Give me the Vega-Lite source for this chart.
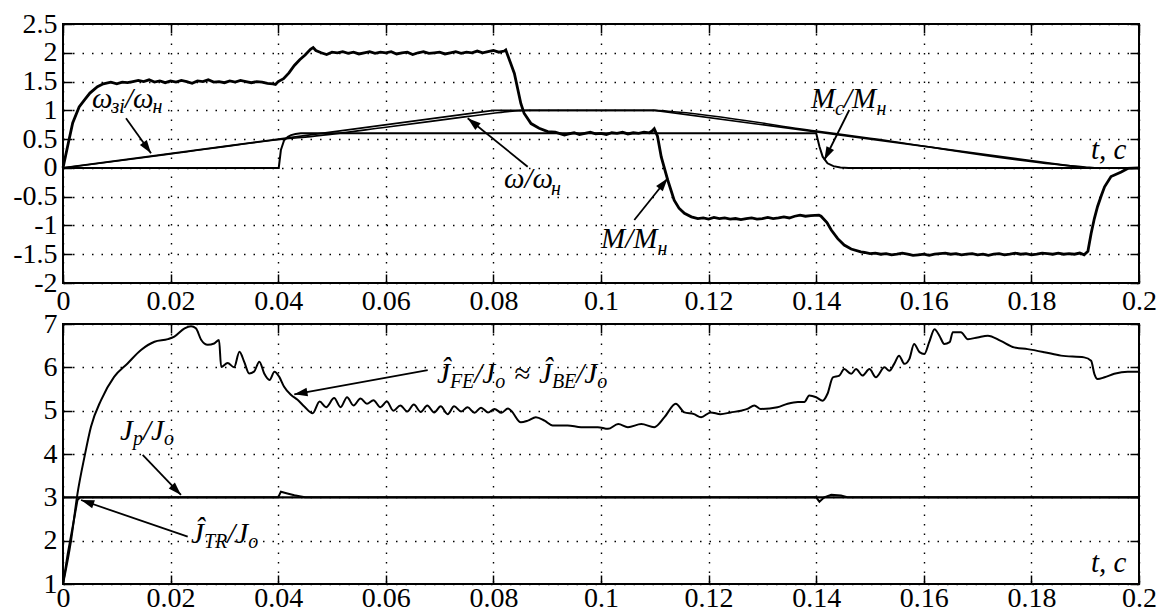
{
  "$schema": "https://vega.github.io/schema/vega-lite/v6.json",
  "background": "white",
  "padding": {"left": 11, "top": 9, "right": 5, "bottom": 0},
  "bounds": "flush",
  "spacing": 41,
  "config": {
    "font": "Liberation Serif",
    "view": {"stroke": "black", "strokeWidth": 2},
    "axis": {
      "grid": true, "gridColor": "black", "gridDash": [1.5, 8], "gridWidth": 1.4, "gridOpacity": 1,
      "domain": false, "ticks": true, "tickColor": "black", "tickSize": -9, "tickWidth": 1.5,
      "labelFont": "Liberation Serif", "labelFontSize": 28, "labelColor": "black",
      "labelPadding": 15, "labelFlush": false, "labelOverlap": false, "title": null
    },
    "text": {"font": "Liberation Serif"},
    "line": {"color": "black"},
    "rule": {"color": "black"}
  },
  "datasets": {
    "M": [
      {"t":0,"v":0},{"t":0.0008,"v":0.35},{"t":0.0018,"v":0.78},{"t":0.003,"v":1.06},{"t":0.004,"v":1.18},{"t":0.005,"v":1.3},{"t":0.0064,"v":1.41},{"t":0.0075,"v":1.46},{"t":0.0089,"v":1.49},
      {"t":0.010,"v":1.46},{"t":0.011,"v":1.49},{"t":0.012,"v":1.48},{"t":0.013,"v":1.5},{"t":0.014,"v":1.52},{"t":0.015,"v":1.5},{"t":0.016,"v":1.53},{"t":0.017,"v":1.49},{"t":0.018,"v":1.51},{"t":0.019,"v":1.48},
      {"t":0.020,"v":1.51},{"t":0.021,"v":1.49},{"t":0.022,"v":1.52},{"t":0.023,"v":1.5},{"t":0.024,"v":1.47},{"t":0.025,"v":1.51},{"t":0.026,"v":1.5},{"t":0.027,"v":1.53},{"t":0.028,"v":1.49},{"t":0.029,"v":1.5},
      {"t":0.030,"v":1.48},{"t":0.031,"v":1.51},{"t":0.032,"v":1.49},{"t":0.033,"v":1.52},{"t":0.034,"v":1.5},{"t":0.035,"v":1.48},{"t":0.036,"v":1.5},{"t":0.037,"v":1.49},{"t":0.038,"v":1.47},{"t":0.039,"v":1.46},{"t":0.0395,"v":1.45},
      {"t":0.040,"v":1.5},{"t":0.041,"v":1.55},{"t":0.042,"v":1.65},{"t":0.043,"v":1.78},{"t":0.044,"v":1.88},{"t":0.045,"v":1.96},{"t":0.046,"v":2.06},{"t":0.0465,"v":2.09},{"t":0.047,"v":2.04},
      {"t":0.048,"v":2.0},{"t":0.049,"v":1.97},{"t":0.050,"v":2.01},{"t":0.051,"v":2.0},{"t":0.052,"v":2.02},{"t":0.053,"v":1.99},{"t":0.054,"v":2.01},{"t":0.055,"v":1.98},{"t":0.056,"v":2.0},{"t":0.057,"v":2.02},{"t":0.058,"v":1.99},{"t":0.059,"v":2.01},
      {"t":0.060,"v":2.0},{"t":0.061,"v":2.02},{"t":0.062,"v":1.98},{"t":0.063,"v":2.0},{"t":0.064,"v":2.01},{"t":0.065,"v":1.97},{"t":0.066,"v":2.0},{"t":0.067,"v":2.02},{"t":0.068,"v":1.99},{"t":0.069,"v":2.0},
      {"t":0.070,"v":2.01},{"t":0.071,"v":1.98},{"t":0.072,"v":2.0},{"t":0.073,"v":2.02},{"t":0.074,"v":1.99},{"t":0.075,"v":2.01},{"t":0.076,"v":2.0},{"t":0.077,"v":2.03},{"t":0.078,"v":2.0},{"t":0.079,"v":2.02},
      {"t":0.080,"v":2.04},{"t":0.081,"v":2.01},{"t":0.082,"v":2.03},{"t":0.0823,"v":2.05},{"t":0.0839,"v":1.64},{"t":0.0851,"v":1.12},{"t":0.0857,"v":0.95},{"t":0.087,"v":0.77},{"t":0.0885,"v":0.69},{"t":0.0901,"v":0.63},{"t":0.0915,"v":0.62},{"t":0.0932,"v":0.57},
      {"t":0.094,"v":0.59},{"t":0.095,"v":0.61},{"t":0.096,"v":0.58},{"t":0.097,"v":0.6},{"t":0.098,"v":0.62},{"t":0.099,"v":0.59},{"t":0.100,"v":0.6},{"t":0.101,"v":0.58},{"t":0.102,"v":0.61},{"t":0.103,"v":0.6},{"t":0.104,"v":0.62},{"t":0.105,"v":0.59},{"t":0.106,"v":0.61},{"t":0.107,"v":0.6},{"t":0.108,"v":0.62},{"t":0.109,"v":0.61},{"t":0.1095,"v":0.64},
      {"t":0.1099,"v":0.68},{"t":0.1105,"v":0.55},{"t":0.1112,"v":0.19},{"t":0.1124,"v":-0.21},{"t":0.1136,"v":-0.56},{"t":0.1145,"v":-0.7},{"t":0.1155,"v":-0.79},{"t":0.1168,"v":-0.85},{"t":0.118,"v":-0.88},
      {"t":0.119,"v":-0.87},{"t":0.120,"v":-0.89},{"t":0.121,"v":-0.86},{"t":0.122,"v":-0.88},{"t":0.123,"v":-0.87},{"t":0.124,"v":-0.89},{"t":0.125,"v":-0.88},{"t":0.126,"v":-0.9},{"t":0.127,"v":-0.88},{"t":0.128,"v":-0.87},{"t":0.129,"v":-0.89},
      {"t":0.130,"v":-0.88},{"t":0.131,"v":-0.86},{"t":0.132,"v":-0.88},{"t":0.133,"v":-0.87},{"t":0.134,"v":-0.85},{"t":0.135,"v":-0.87},{"t":0.136,"v":-0.84},{"t":0.137,"v":-0.82},{"t":0.138,"v":-0.84},{"t":0.139,"v":-0.83},{"t":0.1405,"v":-0.82},
      {"t":0.1409,"v":-0.84},{"t":0.142,"v":-0.95},{"t":0.1428,"v":-1.08},{"t":0.144,"v":-1.23},{"t":0.1452,"v":-1.34},{"t":0.1465,"v":-1.41},{"t":0.1483,"v":-1.46},
      {"t":0.149,"v":-1.47},{"t":0.150,"v":-1.49},{"t":0.151,"v":-1.48},{"t":0.152,"v":-1.5},{"t":0.153,"v":-1.49},{"t":0.154,"v":-1.51},{"t":0.155,"v":-1.5},{"t":0.156,"v":-1.48},{"t":0.157,"v":-1.5},{"t":0.158,"v":-1.52},{"t":0.159,"v":-1.51},
      {"t":0.160,"v":-1.5},{"t":0.161,"v":-1.52},{"t":0.162,"v":-1.5},{"t":0.163,"v":-1.49},{"t":0.164,"v":-1.48},{"t":0.165,"v":-1.5},{"t":0.166,"v":-1.49},{"t":0.167,"v":-1.51},{"t":0.168,"v":-1.5},{"t":0.169,"v":-1.49},
      {"t":0.170,"v":-1.51},{"t":0.171,"v":-1.5},{"t":0.172,"v":-1.52},{"t":0.173,"v":-1.5},{"t":0.174,"v":-1.49},{"t":0.175,"v":-1.51},{"t":0.176,"v":-1.5},{"t":0.177,"v":-1.48},{"t":0.178,"v":-1.5},{"t":0.179,"v":-1.49},
      {"t":0.180,"v":-1.51},{"t":0.181,"v":-1.5},{"t":0.182,"v":-1.48},{"t":0.183,"v":-1.49},{"t":0.184,"v":-1.5},{"t":0.185,"v":-1.48},{"t":0.186,"v":-1.5},{"t":0.187,"v":-1.49},{"t":0.188,"v":-1.5},{"t":0.189,"v":-1.48},{"t":0.1898,"v":-1.51},
      {"t":0.1905,"v":-1.45},{"t":0.1911,"v":-1.14},{"t":0.1917,"v":-0.88},{"t":0.1923,"v":-0.67},{"t":0.193,"v":-0.48},{"t":0.1936,"v":-0.33},{"t":0.1948,"v":-0.15},{"t":0.1967,"v":-0.07},{"t":0.1979,"v":-0.01},{"t":0.2,"v":0}
    ],
    "wref": [{"t":0,"v":0},{"t":0.08,"v":1},{"t":0.11,"v":1},{"t":0.19,"v":0},{"t":0.2,"v":0}],
    "w": [{"t":0,"v":0},{"t":0.005,"v":0.058},{"t":0.02,"v":0.243},{"t":0.04,"v":0.49},{"t":0.042,"v":0.51},{"t":0.045,"v":0.535},{"t":0.06,"v":0.705},{"t":0.075,"v":0.89},{"t":0.08,"v":0.95},{"t":0.083,"v":0.982},{"t":0.0865,"v":1.0},{"t":0.11,"v":1.0},{"t":0.1125,"v":0.985},{"t":0.14,"v":0.64},{"t":0.15,"v":0.515},{"t":0.19,"v":0.015},{"t":0.1925,"v":0},{"t":0.2,"v":0}],
    "Mc": [{"t":0,"v":0},{"t":0.0401,"v":0},{"t":0.0405,"v":0.31},{"t":0.0411,"v":0.48},{"t":0.0418,"v":0.54},{"t":0.0424,"v":0.57},{"t":0.0432,"v":0.59},{"t":0.0442,"v":0.6},{"t":0.14,"v":0.6},{"t":0.1406,"v":0.37},{"t":0.1412,"v":0.195},{"t":0.1421,"v":0.08},{"t":0.1432,"v":0.03},{"t":0.1445,"v":0.005},{"t":0.146,"v":0},{"t":0.2,"v":0}],
    "Jp": [{"t":0,"v":3},{"t":0.2,"v":3}],
    "JTR": [{"t":0,"v":1},{"t":0.0009,"v":1.71},{"t":0.0018,"v":2.32},{"t":0.0027,"v":2.94},{"t":0.0032,"v":3.0},{"t":0.04,"v":3.0},{"t":0.0405,"v":3.13},{"t":0.0417,"v":3.09},{"t":0.043,"v":3.05},{"t":0.0442,"v":3.02},{"t":0.045,"v":3.0},{"t":0.14,"v":3.0},{"t":0.1406,"v":2.9},{"t":0.1415,"v":3.0},{"t":0.1428,"v":3.06},{"t":0.1446,"v":3.04},{"t":0.1458,"v":3.0},{"t":0.2,"v":3.0}],
    "JFE": [
      {"t":0,"v":1},{"t":0.0015,"v":2.01},{"t":0.0027,"v":3.09},{"t":0.004,"v":3.94},{"t":0.0052,"v":4.63},{"t":0.0071,"v":5.25},{"t":0.0095,"v":5.78},{"t":0.012,"v":6.09},{"t":0.0145,"v":6.4},{"t":0.017,"v":6.59},{"t":0.0195,"v":6.65},{"t":0.0207,"v":6.71},{"t":0.0226,"v":6.9},{"t":0.0238,"v":6.95},{"t":0.0247,"v":6.9},{"t":0.0257,"v":6.63},{"t":0.0269,"v":6.52},{"t":0.0281,"v":6.55},{"t":0.029,"v":6.63},{"t":0.0294,"v":6.01},
      {"t":0.0306,"v":6.1},{"t":0.0318,"v":6.0},{"t":0.0328,"v":6.36},{"t":0.0337,"v":6.12},{"t":0.0346,"v":5.86},{"t":0.0355,"v":5.9},{"t":0.0365,"v":6.13},{"t":0.0374,"v":5.86},{"t":0.0384,"v":5.71},{"t":0.0393,"v":5.9},{"t":0.0402,"v":5.78},{"t":0.0411,"v":5.55},{"t":0.0424,"v":5.36},{"t":0.0436,"v":5.25},{"t":0.0449,"v":5.09},{"t":0.0464,"v":4.94},
      {"t":0.0477,"v":5.21},{"t":0.0489,"v":5.08},{"t":0.0504,"v":5.29},{"t":0.0516,"v":5.08},{"t":0.0528,"v":5.31},{"t":0.054,"v":5.12},{"t":0.0553,"v":5.28},{"t":0.0565,"v":5.16},{"t":0.0577,"v":5.24},{"t":0.059,"v":5.08},{"t":0.0602,"v":5.21},{"t":0.0614,"v":5.0},{"t":0.0627,"v":5.12},{"t":0.064,"v":4.98},{"t":0.0652,"v":5.14},{"t":0.0665,"v":4.97},{"t":0.0677,"v":5.12},{"t":0.069,"v":4.96},{"t":0.0702,"v":5.1},{"t":0.0715,"v":4.92},{"t":0.0727,"v":5.1},{"t":0.074,"v":4.98},{"t":0.0752,"v":5.08},{"t":0.0765,"v":4.95},{"t":0.0777,"v":5.07},{"t":0.079,"v":4.96},{"t":0.0802,"v":5.04},{"t":0.0815,"v":4.95},{"t":0.0827,"v":5.05},{"t":0.0833,"v":5.0},
      {"t":0.0851,"v":4.73},{"t":0.0864,"v":4.77},{"t":0.0879,"v":4.85},{"t":0.0895,"v":4.77},{"t":0.091,"v":4.66},{"t":0.0938,"v":4.66},{"t":0.0963,"v":4.62},{"t":0.0994,"v":4.62},{"t":0.1013,"v":4.58},{"t":0.1032,"v":4.69},{"t":0.105,"v":4.62},{"t":0.1075,"v":4.69},{"t":0.1099,"v":4.62},{"t":0.1118,"v":4.85},{"t":0.1139,"v":5.16},{"t":0.1155,"v":4.96},{"t":0.1173,"v":4.92},{"t":0.1186,"v":4.85},{"t":0.1204,"v":4.96},{"t":0.1222,"v":4.92},{"t":0.1241,"v":4.96},{"t":0.126,"v":5.0},{"t":0.1272,"v":5.04},{"t":0.1285,"v":5.12},{"t":0.1297,"v":5.04},{"t":0.1328,"v":5.08},{"t":0.1347,"v":5.16},{"t":0.1366,"v":5.2},{"t":0.1378,"v":5.2},{"t":0.1387,"v":5.35},{"t":0.14,"v":5.31},{"t":0.1412,"v":5.23},{"t":0.1421,"v":5.39},{"t":0.1431,"v":5.77},{"t":0.1443,"v":5.81},{"t":0.1452,"v":5.96},{"t":0.1465,"v":5.85},{"t":0.1474,"v":5.96},{"t":0.1486,"v":5.81},{"t":0.1499,"v":5.96},{"t":0.1511,"v":5.77},{"t":0.1527,"v":6.0},{"t":0.1536,"v":5.92},{"t":0.1545,"v":6.08},{"t":0.1554,"v":6.27},{"t":0.1564,"v":6.08},{"t":0.1573,"v":6.19},{"t":0.1582,"v":6.54},{"t":0.1592,"v":6.35},{"t":0.1601,"v":6.31},{"t":0.161,"v":6.58},{"t":0.162,"v":6.88},{"t":0.1629,"v":6.73},{"t":0.1638,"v":6.54},{"t":0.1648,"v":6.58},{"t":0.1654,"v":6.81},{"t":0.1669,"v":6.81},{"t":0.1682,"v":6.65},{"t":0.17,"v":6.69},{"t":0.1719,"v":6.73},{"t":0.1743,"v":6.61},{"t":0.1768,"v":6.46},{"t":0.1793,"v":6.42},{"t":0.1824,"v":6.35},{"t":0.1855,"v":6.27},{"t":0.1898,"v":6.23},{"t":0.1911,"v":6.15},{"t":0.1917,"v":5.85},{"t":0.1923,"v":5.73},{"t":0.1936,"v":5.77},{"t":0.1954,"v":5.85},{"t":0.1979,"v":5.9},{"t":0.2,"v":5.9}
    ],
    "txtTop": [
      {"t":0.00539,"v":1.041,"txt":"ω","k":"main"},{"t":0.009,"v":0.954,"txt":"зі","k":"sub"},{"t":0.01152,"v":1.041,"txt":"/ω","k":"main"},{"t":0.01664,"v":0.954,"txt":"н","k":"sub"},
      {"t":0.08197,"v":-0.349,"txt":"ω/ω","k":"main"},{"t":0.0907,"v":-0.471,"txt":"н","k":"sub"},
      {"t":0.1,"v":-1.392,"txt":"M/M","k":"main"},{"t":0.1105,"v":-1.513,"txt":"н","k":"sub"},
      {"t":0.13903,"v":1.041,"txt":"M","k":"main"},{"t":0.14349,"v":0.919,"txt":"c","k":"sub"},{"t":0.14517,"v":1.041,"txt":"/M","k":"main"},{"t":0.15121,"v":0.919,"txt":"н","k":"sub"},
      {"t":0.19108,"v":0.155,"txt":"t, c","k":"main"}
    ],
    "txtBot": [
      {"t":0.06952,"v":5.638,"txt":"Ĵ","k":"main"},{"t":0.07191,"v":5.523,"txt":"FE","k":"sub"},{"t":0.07645,"v":5.638,"txt":"/J","k":"main"},{"t":0.08035,"v":5.523,"txt":"o","k":"sub"},
      {"t":0.08383,"v":5.638,"txt":"≈","k":"main"},
      {"t":0.08848,"v":5.638,"txt":"Ĵ","k":"main"},{"t":0.09087,"v":5.523,"txt":"BE","k":"sub"},{"t":0.09541,"v":5.638,"txt":"/J","k":"main"},{"t":0.09931,"v":5.523,"txt":"o","k":"sub"},
      {"t":0.01059,"v":4.323,"txt":"J","k":"main"},{"t":0.01299,"v":4.207,"txt":"p","k":"sub"},{"t":0.01485,"v":4.323,"txt":"/J","k":"main"},{"t":0.01875,"v":4.207,"txt":"o","k":"sub"},
      {"t":0.02379,"v":1.946,"txt":"Ĵ","k":"main"},{"t":0.02619,"v":1.83,"txt":"TR","k":"sub"},{"t":0.03052,"v":1.946,"txt":"/J","k":"main"},{"t":0.03442,"v":1.83,"txt":"o","k":"sub"},
      {"t":0.19108,"v":1.277,"txt":"t, c","k":"main"}
    ],
    "arrTop": [
      {"t":0.01171,"v":0.862,"t2":0.01636,"v2":0.254,"ang":54.5},
      {"t":0.08637,"v":0.021,"t2":0.07522,"v2":0.862,"ang":-141.1},
      {"t":0.10619,"v":-0.905,"t2":0.1124,"v2":-0.181,"ang":-51.3},
      {"t":0.14615,"v":1.006,"t2":0.14151,"v2":0.137,"ang":116.6}
    ],
    "arrBot": [
      {"t":0.06779,"v":5.938,"t2":0.04299,"v2":5.377,"ang":169.7},
      {"t":0.01481,"v":3.977,"t2":0.02193,"v2":3.054,"ang":46.2},
      {"t":0.02318,"v":2.092,"t2":0.00335,"v2":2.938,"ang":-161.0}
    ]
  },
  "vconcat": [
    {
      "width": 1076,
      "height": 259,
      "resolve": {"axis": {"x": "independent", "y": "independent"}},
      "layer": [
        {
          "data": {"name": "M"},
          "mark": {"type": "line", "strokeWidth": 2.8, "color": "black"},
          "encoding": {
            "x": {"field": "t", "type": "quantitative", "scale": {"domain": [0, 0.2], "nice": false, "zero": false},
                  "axis": {"orient": "bottom", "values": [0,0.02,0.04,0.06,0.08,0.1,0.12,0.14,0.16,0.18,0.2], "labelExpr": "datum.value + ''", "labelPadding": 13}},
            "y": {"field": "v", "type": "quantitative", "scale": {"domain": [-2, 2.5], "nice": false, "zero": false},
                  "axis": {"orient": "left", "values": [-2,-1.5,-1,-0.5,0,0.5,1,1.5,2,2.5], "labelExpr": "datum.value + ''"}}
          }
        },
        {
          "data": {"name": "wref"},
          "mark": {"type": "line", "strokeWidth": 1.6, "color": "black"},
          "encoding": {
            "x": {"field": "t", "type": "quantitative", "axis": {"orient": "top", "values": [0,0.02,0.04,0.06,0.08,0.1,0.12,0.14,0.16,0.18,0.2], "labels": false, "grid": false}},
            "y": {"field": "v", "type": "quantitative", "axis": {"orient": "right", "values": [-2,-1.5,-1,-0.5,0,0.5,1,1.5,2,2.5], "labels": false, "grid": false}}
          }
        },
        {
          "data": {"name": "w"},
          "mark": {"type": "line", "strokeWidth": 1.6, "color": "black", "interpolate": "monotone"},
          "encoding": {
            "x": {"field": "t", "type": "quantitative", "axis": null},
            "y": {"field": "v", "type": "quantitative", "axis": null}
          }
        },
        {
          "data": {"name": "Mc"},
          "mark": {"type": "line", "strokeWidth": 2, "color": "black"},
          "encoding": {
            "x": {"field": "t", "type": "quantitative", "axis": null},
            "y": {"field": "v", "type": "quantitative", "axis": null}
          }
        },
        {
          "data": {"name": "arrTop"},
          "mark": {"type": "rule", "strokeWidth": 1.8, "color": "black"},
          "encoding": {
            "x": {"field": "t", "type": "quantitative", "axis": null},
            "y": {"field": "v", "type": "quantitative", "axis": null},
            "x2": {"field": "t2"},
            "y2": {"field": "v2"}
          }
        },
        {
          "data": {"name": "arrTop"},
          "mark": {"type": "point", "shape": "M0,0L-1,-0.32L-1,0.32Z", "filled": true, "size": 700, "color": "black", "opacity": 1},
          "encoding": {
            "x": {"field": "t2", "type": "quantitative", "axis": null},
            "y": {"field": "v2", "type": "quantitative", "axis": null},
            "angle": {"field": "ang", "type": "quantitative", "scale": null}
          }
        },
        {
          "data": {"name": "txtTop"},
          "transform": [{"filter": "datum.k == 'main'"}],
          "mark": {"type": "text", "align": "left", "baseline": "alphabetic", "font": "Liberation Serif", "fontStyle": "italic", "fontSize": 29, "color": "black"},
          "encoding": {
            "x": {"field": "t", "type": "quantitative", "axis": null},
            "y": {"field": "v", "type": "quantitative", "axis": null},
            "text": {"field": "txt"}
          }
        },
        {
          "data": {"name": "txtTop"},
          "transform": [{"filter": "datum.k == 'sub'"}],
          "mark": {"type": "text", "align": "left", "baseline": "alphabetic", "font": "Liberation Serif", "fontStyle": "italic", "fontSize": 20, "color": "black"},
          "encoding": {
            "x": {"field": "t", "type": "quantitative", "axis": null},
            "y": {"field": "v", "type": "quantitative", "axis": null},
            "text": {"field": "txt"}
          }
        }
      ]
    },
    {
      "width": 1076,
      "height": 260,
      "resolve": {"axis": {"x": "independent", "y": "independent"}},
      "layer": [
        {
          "data": {"name": "JFE"},
          "mark": {"type": "line", "strokeWidth": 2, "color": "black", "interpolate": "monotone"},
          "encoding": {
            "x": {"field": "t", "type": "quantitative", "scale": {"domain": [0, 0.2], "nice": false, "zero": false},
                  "axis": {"orient": "bottom", "values": [0,0.02,0.04,0.06,0.08,0.1,0.12,0.14,0.16,0.18,0.2], "labelExpr": "datum.value + ''", "labelPadding": 9}},
            "y": {"field": "v", "type": "quantitative", "scale": {"domain": [1, 7], "nice": false, "zero": false},
                  "axis": {"orient": "left", "values": [1,2,3,4,5,6,7], "labelExpr": "datum.value + ''"}}
          }
        },
        {
          "data": {"name": "Jp"},
          "mark": {"type": "line", "strokeWidth": 2.4, "color": "black"},
          "encoding": {
            "x": {"field": "t", "type": "quantitative", "axis": {"orient": "top", "values": [0,0.02,0.04,0.06,0.08,0.1,0.12,0.14,0.16,0.18,0.2], "labels": false, "grid": false}},
            "y": {"field": "v", "type": "quantitative", "axis": {"orient": "right", "values": [1,2,3,4,5,6,7], "labels": false, "grid": false}}
          }
        },
        {
          "data": {"name": "JTR"},
          "mark": {"type": "line", "strokeWidth": 2, "color": "black"},
          "encoding": {
            "x": {"field": "t", "type": "quantitative", "axis": null},
            "y": {"field": "v", "type": "quantitative", "axis": null}
          }
        },
        {
          "data": {"name": "arrBot"},
          "mark": {"type": "rule", "strokeWidth": 1.8, "color": "black"},
          "encoding": {
            "x": {"field": "t", "type": "quantitative", "axis": null},
            "y": {"field": "v", "type": "quantitative", "axis": null},
            "x2": {"field": "t2"},
            "y2": {"field": "v2"}
          }
        },
        {
          "data": {"name": "arrBot"},
          "mark": {"type": "point", "shape": "M0,0L-1,-0.32L-1,0.32Z", "filled": true, "size": 700, "color": "black", "opacity": 1},
          "encoding": {
            "x": {"field": "t2", "type": "quantitative", "axis": null},
            "y": {"field": "v2", "type": "quantitative", "axis": null},
            "angle": {"field": "ang", "type": "quantitative", "scale": null}
          }
        },
        {
          "data": {"name": "txtBot"},
          "transform": [{"filter": "datum.k == 'main'"}],
          "mark": {"type": "text", "align": "left", "baseline": "alphabetic", "font": "Liberation Serif", "fontStyle": "italic", "fontSize": 29, "color": "black"},
          "encoding": {
            "x": {"field": "t", "type": "quantitative", "axis": null},
            "y": {"field": "v", "type": "quantitative", "axis": null},
            "text": {"field": "txt"}
          }
        },
        {
          "data": {"name": "txtBot"},
          "transform": [{"filter": "datum.k == 'sub'"}],
          "mark": {"type": "text", "align": "left", "baseline": "alphabetic", "font": "Liberation Serif", "fontStyle": "italic", "fontSize": 20, "color": "black"},
          "encoding": {
            "x": {"field": "t", "type": "quantitative", "axis": null},
            "y": {"field": "v", "type": "quantitative", "axis": null},
            "text": {"field": "txt"}
          }
        }
      ]
    }
  ]
}
